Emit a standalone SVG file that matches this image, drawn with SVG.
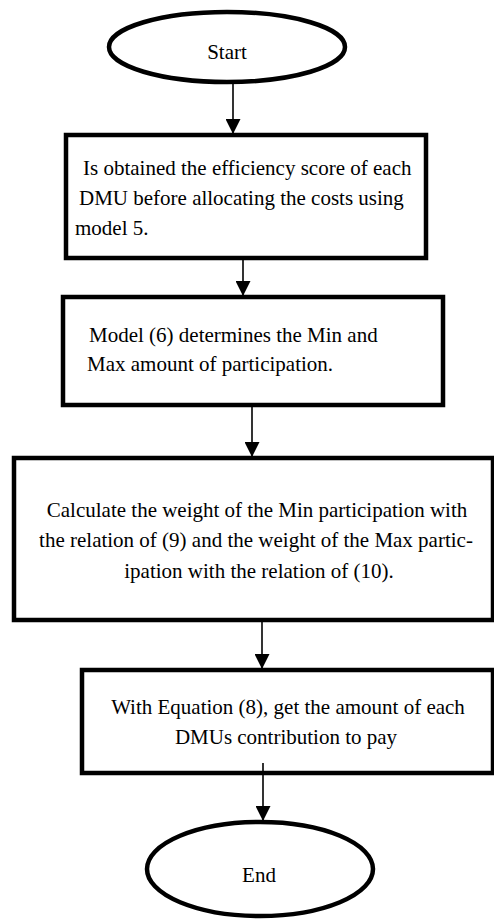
<svg xmlns="http://www.w3.org/2000/svg" width="494" height="920" viewBox="0 0 494 920" font-family="'Liberation Serif', Tinos, 'Times New Roman', serif">
<style>
.shape{fill:#fff;stroke:#000;stroke-width:4.5}
.t{font-family:"Liberation Serif",Tinos,"Times New Roman",serif;font-size:21px;fill:#000}
.c{text-anchor:middle}
.conn line{stroke:#000;stroke-width:1.6}
</style>
<defs>
<marker id="ah" viewBox="0 0 10 10" refX="10" refY="5" markerWidth="15" markerHeight="15" markerUnits="userSpaceOnUse" orient="auto">
<path d="M0,0L10,5L0,10z" fill="#000"/>
</marker>
</defs>
<rect width="494" height="920" fill="#fff"/>
<g id="start">
<ellipse class="shape" cx="227" cy="47" rx="118" ry="35"/>
<text class="t c" x="227" y="59">Start</text>
</g>
<g id="step1">
<rect class="shape" x="66" y="135" width="360" height="123"/>
<text class="t" x="83" y="175">Is obtained the efficiency score of each</text>
<text class="t" x="79" y="205">DMU before allocating the costs using</text>
<text class="t" x="75" y="235">model 5.</text>
</g>
<g id="step2">
<rect class="shape" x="63" y="297" width="380" height="108"/>
<text class="t" x="89" y="342">Model (6) determines the Min and</text>
<text class="t" x="87" y="371">Max amount of participation.</text>
</g>
<g id="step3">
<rect class="shape" x="14" y="458" width="479" height="162"/>
<text class="t c" x="257" y="517">Calculate the weight of the Min participation with</text>
<text class="t c" x="256" y="547">the relation of (9) and the weight of the Max partic-</text>
<text class="t c" x="259" y="578">ipation with the relation of (10).</text>
</g>
<g id="step4">
<rect class="shape" x="82" y="670" width="411" height="103"/>
<text class="t c" x="288" y="714">With Equation (8), get the amount of each</text>
<text class="t c" x="286" y="744">DMUs contribution to pay</text>
</g>
<g id="end">
<ellipse class="shape" cx="260" cy="869" rx="113" ry="47"/>
<text class="t c" x="259" y="882">End</text>
</g>
<g id="connectors" class="conn">
<line x1="233" y1="83" x2="233" y2="134" marker-end="url(#ah)"/>
<line x1="243" y1="258" x2="243" y2="296" marker-end="url(#ah)"/>
<line x1="252" y1="405" x2="252" y2="457" marker-end="url(#ah)"/>
<line x1="262" y1="620" x2="262" y2="669" marker-end="url(#ah)"/>
<line x1="263" y1="763" x2="263" y2="821" marker-end="url(#ah)"/>
</g>
</svg>
